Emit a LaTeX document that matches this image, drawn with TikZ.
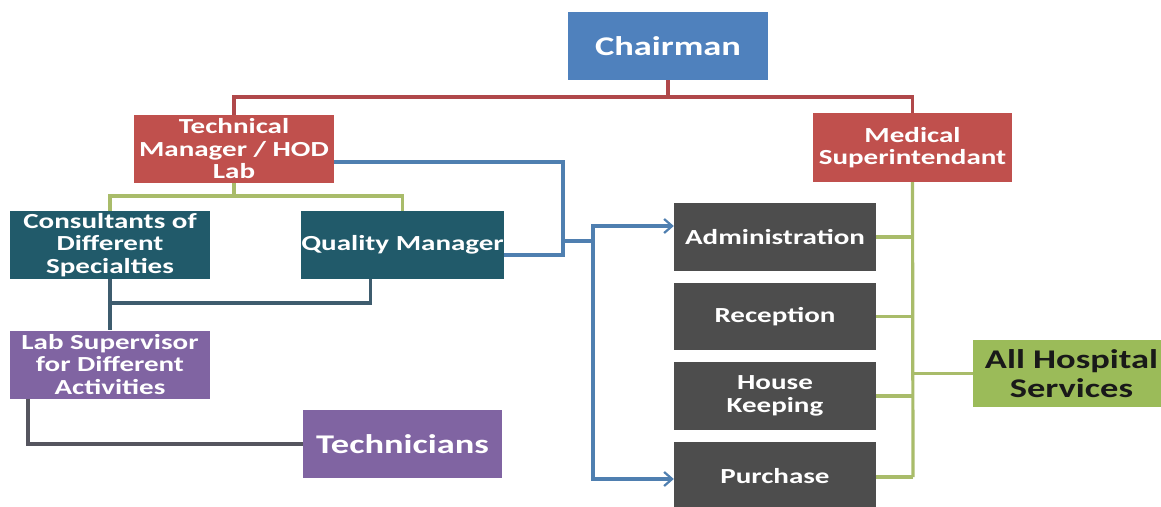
\documentclass[tikz,border=0pt]{standalone}
\usepackage{fontspec}
\setmainfont{Carlito}[FakeStretch=1.35]
\usetikzlibrary{arrows.meta}

\definecolor{chairblue}{HTML}{4F81BD}
\definecolor{redbox}{HTML}{C0504D}
\definecolor{tealbox}{HTML}{215A6A}
\definecolor{purplebox}{HTML}{8064A2}
\definecolor{graybox}{HTML}{4D4D4D}
\definecolor{greenbox}{HTML}{9BBB59}
\definecolor{redline}{HTML}{B0484A}
\definecolor{oliveline}{HTML}{A9BC6A}
\definecolor{blueline}{HTML}{4F7FB0}
\definecolor{slateline}{HTML}{3E5C6E}
\definecolor{darkline}{HTML}{55555F}

\tikzset{
  box/.style={rectangle, inner sep=0pt, align=center, text=white,
    font=\bfseries\fontsize{21.5}{22.5}\selectfont},
  bigbox/.style={box, font=\bfseries\fontsize{27}{29}\selectfont},
  conn/.style={line width=3.2pt},
  arr/.style={conn, -{Straight Barb[length=8pt,width=14pt,line width=2.2pt]}}
}

\begin{document}
\begin{tikzpicture}[x=1pt,y=-1pt]
\clip (0,0) rectangle (1161,506);
\useasboundingbox (0,0) rectangle (1161,506);
\fill[white] (0,0) rectangle (1161,506);

% boxes
\node[bigbox, fill=chairblue, minimum width=200pt, minimum height=68pt] (chair) at (668,46) {Chairman};
\node[box, fill=redbox, minimum width=200pt, minimum height=68pt] (tm) at (234,149) {Technical\\Manager / HOD\\Lab};
\node[box, fill=redbox, minimum width=199pt, minimum height=69pt] (ms) at (912.5,147.5) {Medical\\Superintendant};
\node[box, fill=tealbox, minimum width=200pt, minimum height=68pt] (cons) at (110,245) {Consultants of\\Different\\Specialties};
\node[box, fill=tealbox, minimum width=199pt, minimum height=68pt] (qm) at (402.5,245) {Quality Manager};
\node[box, fill=purplebox, minimum width=200pt, minimum height=68pt] (labs) at (110,364.5) {Lab Supervisor\\for Different\\Activities};
\node[bigbox, fill=purplebox, minimum width=199pt, minimum height=68pt] (tech) at (402.5,444) {Technicians};
\node[box, fill=graybox, minimum width=202pt, minimum height=68pt] (admin) at (775,237) {Administration};
\node[box, fill=graybox, minimum width=202pt, minimum height=67pt] (recep) at (775,316.5) {Reception};
\node[box, fill=graybox, minimum width=202pt, minimum height=68pt] (house) at (775,396) {House\\Keeping};
\node[box, fill=graybox, minimum width=202pt, minimum height=68pt] (purch) at (775,476) {Purchase};
\node[bigbox, fill=greenbox, text=black!90, minimum width=197pt, minimum height=67pt] (all) at (1071.5,373.5) {All Hospital\\Services};

% chairman to the two managers
\coordinate (rbus) at (668,97);
\draw[conn, redline] (chair.south) -- (rbus) -| (tm.north);
\draw[conn, redline] (rbus) -| (ms.north);

% technical manager to consultants and quality manager
\coordinate (obus) at (234,196);
\draw[conn, oliveline] (tm.south) -- (obus) -| (cons.north);
\draw[conn, oliveline] (obus) -| (qm.north);

% technical manager and quality manager towards the services
\coordinate (bturn) at (563,255);
\coordinate (bjoin) at (563,241);
\coordinate (bsplit) at (593,241);
\draw[conn, blueline] ([yshift=-13pt]tm.east) -| (bturn) -- ([yshift=-10pt]qm.east);
\draw[conn, blueline] (bjoin) -- (bsplit);
\draw[arr, blueline] (bsplit) |- ([yshift=11pt]admin.west);
\draw[arr, blueline] (bsplit) |- ([yshift=-3pt]purch.west);

% consultants and quality manager to lab supervisor
\coordinate (sjoin) at (110,303);
\draw[conn, slateline] (cons.south) -- (labs.north);
\draw[conn, slateline] (sjoin) -| ([xshift=-32pt]qm.south);

% lab supervisor to technicians
\draw[conn, darkline] ([xshift=-82pt]labs.south) |- (tech.west);

% medical superintendant to services
\coordinate (gbot) at (913,477);
\draw[conn, oliveline] (ms.south) -- (gbot);
\draw[conn, oliveline] (admin.east) -- (admin.east -| ms.south);
\draw[conn, oliveline] (recep.east) -- (recep.east -| ms.south);
\draw[conn, oliveline] (house.east) -- (house.east -| ms.south);
\draw[conn, oliveline] (gbot) -- (gbot -| purch.east);
\draw[conn, oliveline] (all.west) -- (all.west -| ms.south);
\end{tikzpicture}
\end{document}
